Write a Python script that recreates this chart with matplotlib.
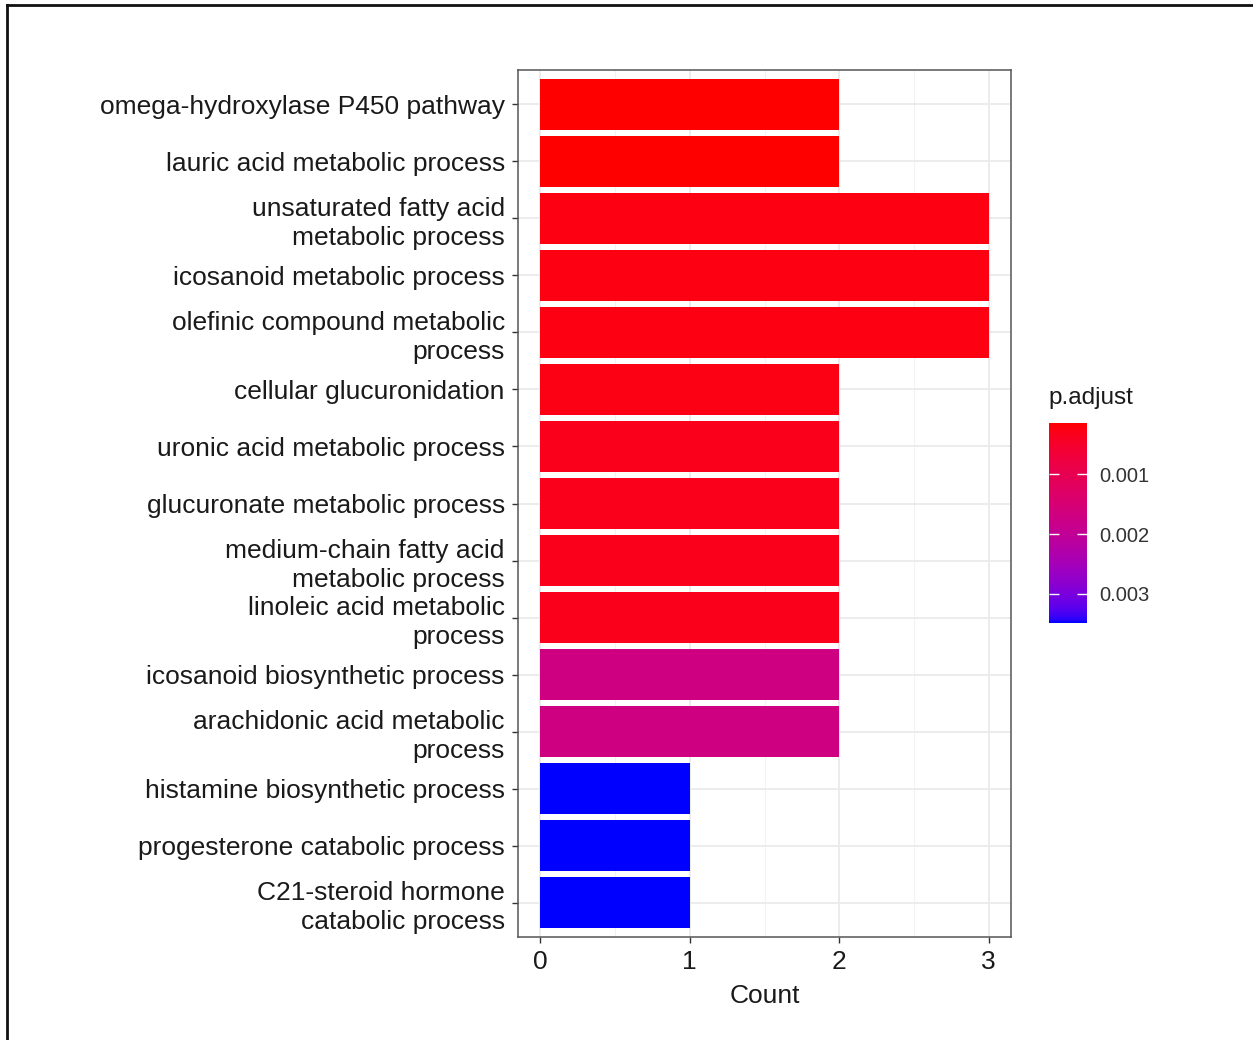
import numpy as np
import matplotlib
matplotlib.use("Agg")
import matplotlib.pyplot as plt
from matplotlib.colors import ListedColormap, Normalize
from matplotlib.lines import Line2D
import matplotlib.cm as cm

plt.rcParams['font.family'] = ['Liberation Sans', 'DejaVu Sans']

categories = [
    "omega-hydroxylase P450 pathway",
    "lauric acid metabolic process",
    "unsaturated fatty acid\nmetabolic process",
    "icosanoid metabolic process",
    "olefinic compound metabolic\nprocess",
    "cellular glucuronidation",
    "uronic acid metabolic process",
    "glucuronate metabolic process",
    "medium-chain fatty acid\nmetabolic process",
    "linoleic acid metabolic\nprocess",
    "icosanoid biosynthetic process",
    "arachidonic acid metabolic\nprocess",
    "histamine biosynthetic process",
    "progesterone catabolic process",
    "C21-steroid hormone\ncatabolic process",
]
counts = [2, 2, 3, 3, 3, 2, 2, 2, 2, 2, 2, 2, 1, 1, 1]
p_adjust = [0.00014, 0.00014, 0.00024, 0.00024, 0.00024, 0.00026, 0.00031,
            0.00031, 0.00031, 0.00031, 0.00170, 0.00170, 0.00348, 0.00348, 0.00348]
cbar_ticks = [0.001, 0.002, 0.003]
cbar_ticklabels = ["0.001", "0.002", "0.003"]

# ---- Lab interpolation (like ggplot2 gradient) ----
def srgb_to_lab(rgb):
    rgb = np.asarray(rgb, float)
    lin = np.where(rgb <= 0.04045, rgb / 12.92, ((rgb + 0.055) / 1.055) ** 2.4)
    M = np.array([[0.4124, 0.3576, 0.1805],
                  [0.2126, 0.7152, 0.0722],
                  [0.0193, 0.1192, 0.9505]])
    xyz = M @ lin
    wp = np.array([0.95047, 1.0, 1.08883])
    t = xyz / wp
    f = np.where(t > (6/29)**3, np.cbrt(t), t / (3*(6/29)**2) + 4/29)
    return np.array([116*f[1]-16, 500*(f[0]-f[1]), 200*(f[1]-f[2])])

def lab_to_srgb(lab):
    L, a, b = lab
    fy = (L + 16) / 116
    fx = fy + a / 500
    fz = fy - b / 200
    f = np.array([fx, fy, fz])
    t = np.where(f > 6/29, f**3, 3*(6/29)**2*(f - 4/29))
    wp = np.array([0.95047, 1.0, 1.08883])
    xyz = t * wp
    Minv = np.array([[3.2406, -1.5372, -0.4986],
                     [-0.9689, 1.8758, 0.0415],
                     [0.0557, -0.2040, 1.0570]])
    lin = Minv @ xyz
    lin = np.clip(lin, 0, 1)
    rgb = np.where(lin <= 0.0031308, 12.92*lin, 1.055*lin**(1/2.4) - 0.055)
    return np.clip(rgb, 0, 1)

lab_lo = srgb_to_lab([1, 0, 0])
lab_hi = srgb_to_lab([0, 0, 1])
cols = [lab_to_srgb(lab_lo + (lab_hi - lab_lo) * t) for t in np.linspace(0, 1, 256)]
cmap = ListedColormap(cols)

vmin, vmax = min(p_adjust), max(p_adjust)
norm = Normalize(vmin=vmin, vmax=vmax)

W, H = 1253, 1040
fig = plt.figure(figsize=(W/100, H/100), dpi=100)
fig.patch.set_facecolor('white')

ax = fig.add_axes([518/W, 1 - 937/H, (1011-518)/W, (937-70)/H])
n = len(categories)
ypos = np.arange(n)[::-1]
ax.barh(ypos, counts, height=0.9, color=[cmap(norm(p)) for p in p_adjust],
        edgecolor='none', zorder=3)
ax.set_xlim(-0.15, 3.15)
ax.set_ylim(-0.6, n - 1 + 0.6)
ax.set_yticks(ypos)
ax.set_yticklabels(categories, fontsize=19, color='#1A1A1A', linespacing=1.25,
                   multialignment='right')
ax.set_xticks([0, 1, 2, 3])
ax.set_xticks([0.5, 1.5, 2.5], minor=True)
ax.tick_params(axis='x', which='major', labelsize=19, labelcolor='#1A1A1A',
               length=4.5, width=1, color='#333333', pad=5)
ax.tick_params(axis='x', which='minor', length=0)
ax.tick_params(axis='y', length=4.5, width=1, color='#333333', pad=5)
ax.set_xlabel("Count", fontsize=19, color='#1A1A1A', labelpad=7)
ax.grid(True, which='major', color='#EBEBEB', linewidth=1.3, zorder=0)
ax.grid(True, which='minor', axis='x', color='#F2F2F2', linewidth=0.8, zorder=0)
ax.set_axisbelow(True)
for s in ax.spines.values():
    s.set_color('#555555')
    s.set_linewidth(1.1)

# colorbar
cax = fig.add_axes([1049/W, 1 - 622.7/H, 38/W, (622.7-422.7)/H])
sm = cm.ScalarMappable(norm=norm, cmap=cmap)
cb = fig.colorbar(sm, cax=cax)
cb.outline.set_visible(False)
cax.invert_yaxis()
cb.set_ticks(cbar_ticks)
cb.set_ticklabels(cbar_ticklabels)
cax.tick_params(axis='y', direction='in', color='white', length=7, width=1,
                left=True, right=True, labelleft=False, labelright=True,
                labelsize=14.5, labelcolor='#333333', pad=9)
fig.text(1048/W, 1 - 398/H, "p.adjust", fontsize=17.5, color='#1A1A1A',
         ha='left', va='center')

# image frame
fig.add_artist(Line2D([7/W, 1], [1 - 5/H, 1 - 5/H], color='#111111', linewidth=2))
fig.add_artist(Line2D([7/W, 7/W], [0, 1 - 5/H], color='#111111', linewidth=2))

fig.savefig("out.png", dpi=100, facecolor='white')
